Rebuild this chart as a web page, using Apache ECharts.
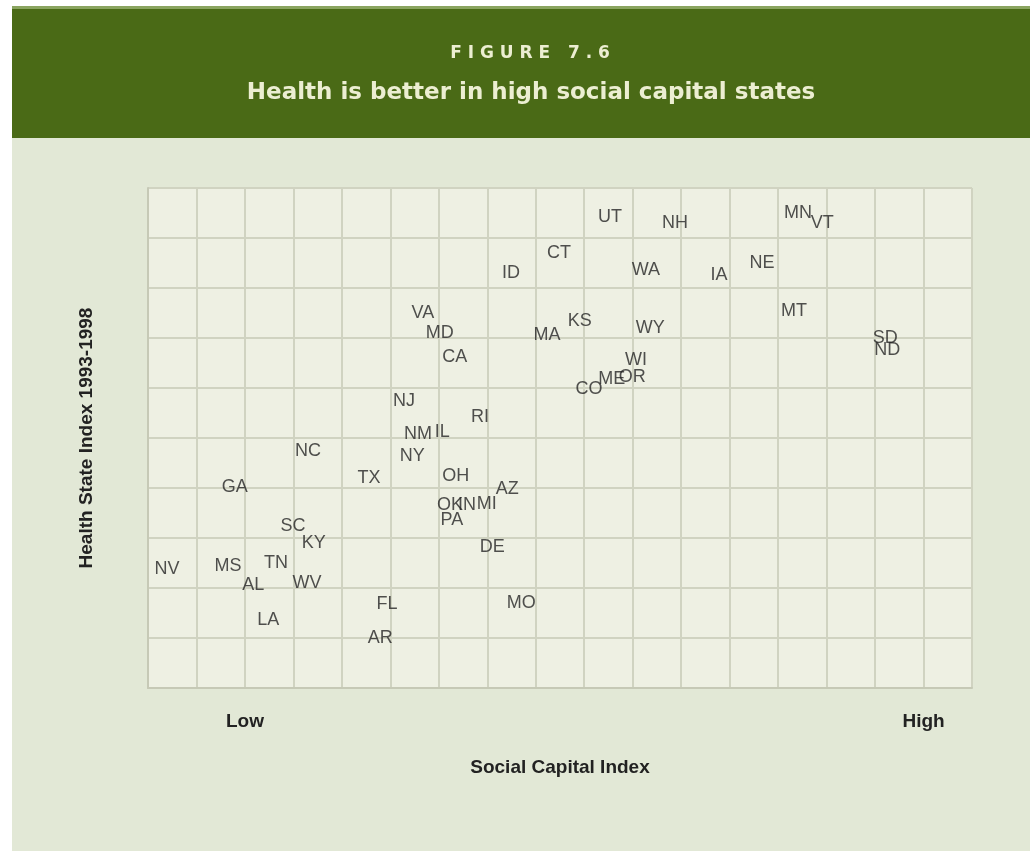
<!DOCTYPE html>
<html>
<head>
<meta charset="utf-8">
<script src="https://cdn.jsdelivr.net/npm/echarts@6/dist/echarts.min.js"></script>
<style>html,body{margin:0;padding:0;background:#fff}#c{width:1030px;height:851px}</style>
</head>
<body>
<div id="c"></div>
<script>
// State abbreviations with [social capital index position, health state index position]
const states = ['UT','NH','MN','VT','CT','ID','WA','IA','NE','MT','VA','MD','KS','MA','WY','CA','SD','ND','WI','ME','OR','CO','NJ','RI','NM','IL','NY','NC','TX','OH','GA','AZ','OK','IN','MI','PA','SC','KY','DE','NV','MS','TN','AL','WV','FL','MO','LA','AR'];
const socialCapital = [9.53,10.87,13.41,13.91,8.48,7.49,10.27,11.78,12.67,13.33,5.67,6.02,8.91,8.23,10.36,6.33,15.21,15.25,10.07,9.57,9.99,9.10,5.28,6.85,5.57,6.07,5.45,3.30,4.56,6.35,1.79,7.41,6.23,6.58,6.99,6.27,2.99,3.42,7.10,0.39,1.65,2.64,2.17,3.28,4.93,7.70,2.48,4.79];
const healthIndex = [9.42,9.30,9.50,9.30,8.70,8.30,8.36,8.26,8.50,7.54,7.50,7.10,7.34,7.06,7.20,6.62,7.00,6.76,6.56,6.18,6.22,5.98,5.74,5.42,5.08,5.12,4.64,4.74,4.20,4.24,4.02,3.98,3.66,3.66,3.68,3.36,3.24,2.90,2.82,2.38,2.44,2.50,2.06,2.10,1.68,1.70,1.36,1.00];
const xTickValues = [2, 16];
const xTickLabels = ['Low', 'High'];

const data = states.map((s, i) => [socialCapital[i], healthIndex[i], s]);

const chart = echarts.init(document.getElementById('c'));
chart.setOption({
  backgroundColor: '#ffffff',
  animation: false,
  graphic: [
    {type: 'rect', z: -10, shape: {x: 12, y: 6, width: 1018, height: 845}, style: {fill: '#e2e8d6'}},
    {type: 'rect', z: -9, shape: {x: 12, y: 6, width: 1018, height: 132}, style: {fill: '#4a6a16'}},
    {type: 'rect', z: -8, shape: {x: 12, y: 6, width: 1018, height: 3}, style: {fill: '#8aa460'}},
    {type: 'text', x: 530, y: 54, style: {text: 'F I G U R E   7 . 6', fill: '#eceed2', font: 'bold 17px "DejaVu Sans", sans-serif', textAlign: 'center', textVerticalAlign: 'middle'}},
    {type: 'text', x: 531, y: 93, style: {text: 'Health is better in high social capital states', fill: '#eceed2', font: 'bold 23px "DejaVu Sans", sans-serif', textAlign: 'center', textVerticalAlign: 'middle'}}
  ],
  grid: {left: 148, right: 58, top: 188, bottom: 163, show: true, backgroundColor: '#eef0e3', borderColor: '#c9ccba', borderWidth: 1},
  xAxis: {
    type: 'value', min: 0, max: 17, interval: 1,
    name: 'Social Capital Index', nameLocation: 'middle', nameGap: 70,
    nameTextStyle: {fontFamily: '"Liberation Sans", sans-serif', fontSize: 19, color: '#222', fontWeight: 'bold'},
    axisLine: {show: true, lineStyle: {color: '#c6c9b6', width: 2}},
    axisTick: {show: false},
    splitLine: {show: true, lineStyle: {color: '#d0d3c1', width: 2}},
    axisLabel: {
      margin: 24,
      fontFamily: '"Liberation Sans", sans-serif', fontSize: 19, color: '#222', fontWeight: 'bold',
      formatter: v => { const i = xTickValues.indexOf(v); return i >= 0 ? xTickLabels[i] : ''; }
    }
  },
  yAxis: {
    type: 'value', min: 0, max: 10, interval: 1,
    name: 'Health State Index 1993-1998', nameLocation: 'middle', nameGap: 52,
    nameTextStyle: {fontFamily: '"Liberation Sans", sans-serif', fontSize: 19, color: '#222', fontWeight: 'bold'},
    axisLine: {show: true, lineStyle: {color: '#c6c9b6', width: 2}},
    axisTick: {show: false},
    axisLabel: {show: false},
    splitLine: {show: true, lineStyle: {color: '#d0d3c1', width: 2}}
  },
  series: [{
    type: 'scatter',
    data: data,
    symbol: 'circle',
    symbolSize: 1,
    itemStyle: {color: 'rgba(0,0,0,0)'},
    label: {
      show: true, position: 'inside',
      formatter: p => p.value[2],
      fontFamily: '"Liberation Sans", Arial, sans-serif', fontSize: 18, color: '#262626'
    },
    emphasis: {disabled: true}
  }]
});
</script>
</body>
</html>
